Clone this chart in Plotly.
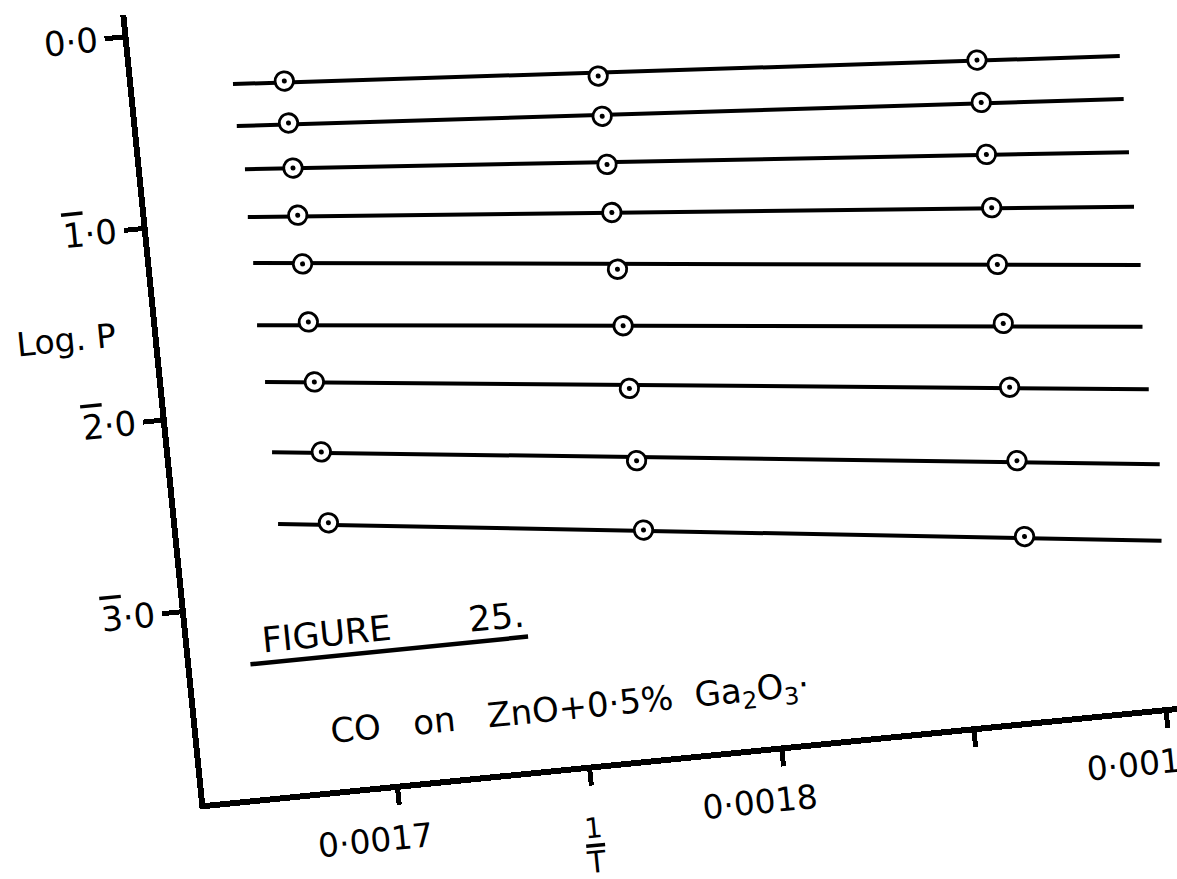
import plotly.graph_objects as go

# ---- data (1/T in K^-1, log P) ----
inv_T = [0.001689, 0.00177, 0.001868]

logP_left = [-0.311, -0.530, -0.765, -1.011, -1.265, -1.568, -1.881, -2.246, -2.616]
logP_mid = [-0.447, -0.657, -0.908, -1.159, -1.455, -1.750, -2.077, -2.454, -2.816]
logP_right = [-0.560, -0.781, -1.052, -1.330, -1.626, -1.934, -2.267, -2.650, -3.046]

# drawn best-fit lines (end points)
line_x_start = [0.0016757, 0.0016756, 0.0016766, 0.0016761, 0.0016763,
                0.0016757, 0.0016763, 0.0016763, 0.0016760]
line_y_start = [-0.300, -0.519, -0.746, -0.995, -1.235, -1.558, -1.856, -2.222, -2.596]
line_x_end = [0.0019049, 0.0019048, 0.0019048, 0.0019047, 0.0019049,
              0.0019038, 0.0019038, 0.0019047, 0.0019032]
line_y_end = [-0.613, -0.837, -1.114, -1.398, -1.703, -2.023, -2.349, -2.742, -3.138]

x_tickvals = [0.0017, 0.00175, 0.0018, 0.00185, 0.0019]
x_ticktext = ["0·0017", "", "0·0018", "", "0·0019"]
y_tickvals = [0.0, -1.0, -2.0, -3.0]
# bar notation: 1̄·0 = -1.0 etc.
y_tick_characteristic = ["0", "1", "2", "3"]
y_tick_bar = [False, True, True, True]

# ---- layout geometry (unrotated frame) ----
W, H = 1260, 960
L, R, T, B = 205, 60, 11, 157
PW, PH = W - L - R, H - T - B
FONT = "DejaVu Sans"
NB = "\u00a0"

y_ticktext = []
for c, bar in zip(y_tick_characteristic, y_tick_bar):
    if bar:
        y_ticktext.append("<span style='text-decoration:overline;"
                          "text-decoration-thickness:3px'>" + c + "</span>·0")
    else:
        y_ticktext.append(c + "·0")


def paper(px, py):
    return (px - L) / PW, (H - B - py) / PH


fig = go.Figure()

# fitted lines
lx, ly = [], []
for i in range(len(line_x_start)):
    lx += [line_x_start[i], line_x_end[i], None]
    ly += [line_y_start[i], line_y_end[i], None]
fig.add_trace(go.Scatter(x=lx, y=ly, mode="lines",
                         line=dict(color="black", width=4),
                         hoverinfo="skip", showlegend=False))

# points
px_all, py_all = [], []
for cols in zip(logP_left, logP_mid, logP_right):
    for xv, yv in zip(inv_T, cols):
        px_all.append(xv)
        py_all.append(yv)
fig.add_trace(go.Scatter(x=px_all, y=py_all, mode="markers",
                         marker=dict(symbol="circle", size=18.5, color="white",
                                     line=dict(color="black", width=2.8)),
                         showlegend=False))
fig.add_trace(go.Scatter(x=px_all, y=py_all, mode="markers",
                         marker=dict(symbol="circle", size=5, color="black"),
                         hoverinfo="skip", showlegend=False))

annotations = []
ax, ay = paper(113, 328)
annotations.append(dict(text="Log. P", x=ax, y=ay, xref="paper", yref="paper",
                        showarrow=False, xanchor="center", yanchor="middle",
                        font=dict(family=FONT, size=33, color="black")))
ax, ay = paper(276, 647)
annotations.append(dict(text="FIGURE" + NB * 7 + "25.", x=ax, y=ay,
                        xref="paper", yref="paper", showarrow=False,
                        xanchor="left", yanchor="middle",
                        font=dict(family=FONT, size=35, color="black")))
ax, ay = paper(335, 746)
annotations.append(dict(text="CO" + NB * 3 + "on" + NB * 3 + "ZnO+0·5%" + NB * 2
                        + "Ga<sub>2</sub>O<sub>3</sub>·",
                        x=ax, y=ay, xref="paper", yref="paper", showarrow=False,
                        xanchor="left", yanchor="middle",
                        font=dict(family=FONT, size=34, color="black")))
ax, ay = paper(589, 866)
annotations.append(dict(text="1", x=ax, y=ay, xref="paper", yref="paper",
                        showarrow=False, xanchor="center", yanchor="middle",
                        font=dict(family=FONT, size=28, color="black")))
ax, ay = paper(589, 900)
annotations.append(dict(text="T", x=ax, y=ay, xref="paper", yref="paper",
                        showarrow=False, xanchor="center", yanchor="middle",
                        font=dict(family=FONT, size=30, color="black")))

u0 = paper(264, 669.5)
u1 = paper(543, 669.5)
b0 = paper(580, 884)
b1 = paper(599, 884)
shapes = [
    dict(type="line", xref="paper", yref="paper", x0=u0[0], y0=u0[1], x1=u1[0], y1=u1[1],
         line=dict(color="black", width=4.5)),
    dict(type="line", xref="paper", yref="paper", x0=b0[0], y0=b0[1], x1=b1[0], y1=b1[1],
         line=dict(color="black", width=3.5)),
]

fig.update_layout(
    width=W, height=H,
    margin=dict(l=L, r=R, t=T, b=B, pad=0),
    paper_bgcolor="white", plot_bgcolor="white",
    showlegend=False,
    font=dict(family=FONT, size=33, color="black"),
    annotations=annotations,
    shapes=shapes,
    xaxis=dict(range=[0.00165, 0.00165 + PW / 386.2 * 0.0001],
               tickmode="array", tickvals=x_tickvals, ticktext=x_ticktext,
               showgrid=False, zeroline=False,
               showline=True, linecolor="black", linewidth=6,
               ticks="outside", ticklen=15, tickwidth=4.5, tickcolor="black",
               ticklabelshift=-27, ticklabelstandoff=5,
               tickfont=dict(family=FONT, size=33, color="black")),
    yaxis=dict(range=[-4.0, -4.0 + PH / 192.6],
               tickmode="array", tickvals=y_tickvals, ticktext=y_ticktext,
               showgrid=False, zeroline=False,
               showline=True, linecolor="black", linewidth=6,
               ticks="outside", ticklen=18, tickwidth=4.5, tickcolor="black",
               ticklabelstandoff=0,
               tickfont=dict(family=FONT, size=34, color="black")),
)

post = """
var gd = document.getElementById('{plot_id}');
document.documentElement.style.overflow = 'hidden';
document.body.style.overflow = 'hidden';
document.body.style.margin = '0';
gd.style.transformOrigin = '205px 803px';
gd.style.transform = 'rotate(-5.7deg)';
"""

fig.write_html("out.html", post_script=post, config={"displayModeBar": False})
